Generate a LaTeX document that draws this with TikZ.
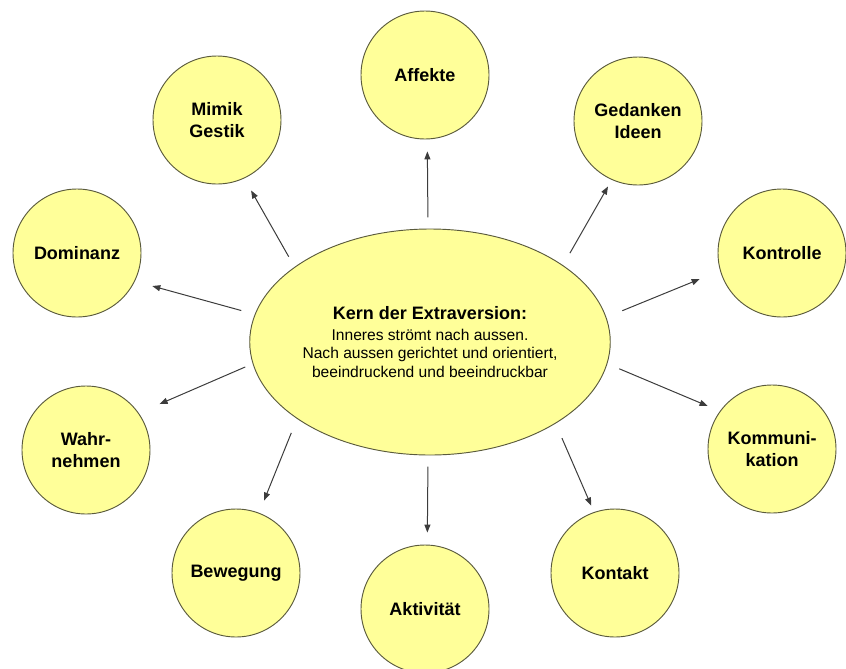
\documentclass[tikz,border=0pt]{standalone}
\usepackage{fontspec}
\setmainfont{Liberation Sans}
\definecolor{pale}{HTML}{FFFF99}
\definecolor{rim}{HTML}{5A5A3C}
\definecolor{strich}{HTML}{3C3C3C}
\usetikzlibrary{shapes.geometric, arrows.meta}

\begin{document}
\begin{tikzpicture}[x=0.75pt, y=-0.75pt,
  blase/.style={circle, draw=rim, fill=pale, line width=0.7pt, minimum size=96pt, inner sep=0pt, align=center, font=\fontsize{13.5}{16.5}\selectfont\bfseries},
  kernblase/.style={ellipse, draw=rim, fill=pale, line width=0.7pt, minimum width=268.5pt, minimum height=169.5pt, inner sep=0pt, align=center, font=\fontsize{11.7}{13.9}\selectfont},
  pfeil/.style={draw=strich, line width=0.75pt, -{Triangle[length=6pt,width=4.5pt]}}]
  \useasboundingbox (0,0) rectangle (846,668);

  % centre
  \node[kernblase] (kern) at (430,342) {{\fontsize{13.5}{16}\selectfont\bfseries Kern der Extraversion:}\\[1.9pt]
    Inneres strömt nach aussen.\\ Nach aussen gerichtet und orientiert,\\ beeindruckend und beeindruckbar};

  % ring
  \node[blase] (affekte) at (425,75) {Affekte};
  \node[blase] (mimik) at (217,120) {Mimik\\Gestik};
  \node[blase] (gedanken) at (638,121) {Gedanken\\Ideen};
  \node[blase] (dominanz) at (77,253) {Dominanz};
  \node[blase] (kontrolle) at (782,253) {Kontrolle};
  \node[blase] (wahrnehmen) at (86,450) {Wahr-\\nehmen};
  \node[blase] (kommunikation) at (772,449) {Kommuni-\\kation};
  \node[blase] (bewegung) at (236,573) {Bewegung};
  \node[blase] (aktivitaet) at (425,609) {Aktivität};
  \node[blase] (kontakt) at (615,573) {Kontakt};

  % arrows
  \draw[pfeil, shorten <=8.3pt, shorten >=9pt] (kern.91) -- (affekte.272);
  \draw[pfeil, shorten <=8.8pt, shorten >=10.4pt] (kern.151) -- (mimik.295);
  \draw[pfeil, shorten <=10.4pt, shorten >=5.7pt] (kern.30.5) -- (gedanken.246);
  \draw[pfeil, shorten <=12.9pt, shorten >=16.5pt] (kern.8.8) -- (kontrolle.196.6);
  \draw[pfeil, shorten <=10.5pt, shorten >=13.5pt] (kern.171.9) -- (dominanz.334.3);
  \draw[pfeil, shorten <=6pt, shorten >=17pt] (kern.187.1) -- (wahrnehmen.35.6);
  \draw[pfeil, shorten <=9.7pt, shorten >=10pt] (kern.353.6) -- (kommunikation.144);
  \draw[pfeil, shorten <=11.9pt, shorten >=5.3pt] (kern.327.4) -- (kontakt.109.3);
  \draw[pfeil, shorten <=11.4pt, shorten >=9.9pt] (kern.210.4) -- (bewegung.69.1);
  \draw[pfeil, shorten <=8.3pt, shorten >=9pt] (kern.269) -- (aktivitaet.88);
\end{tikzpicture}
\end{document}
